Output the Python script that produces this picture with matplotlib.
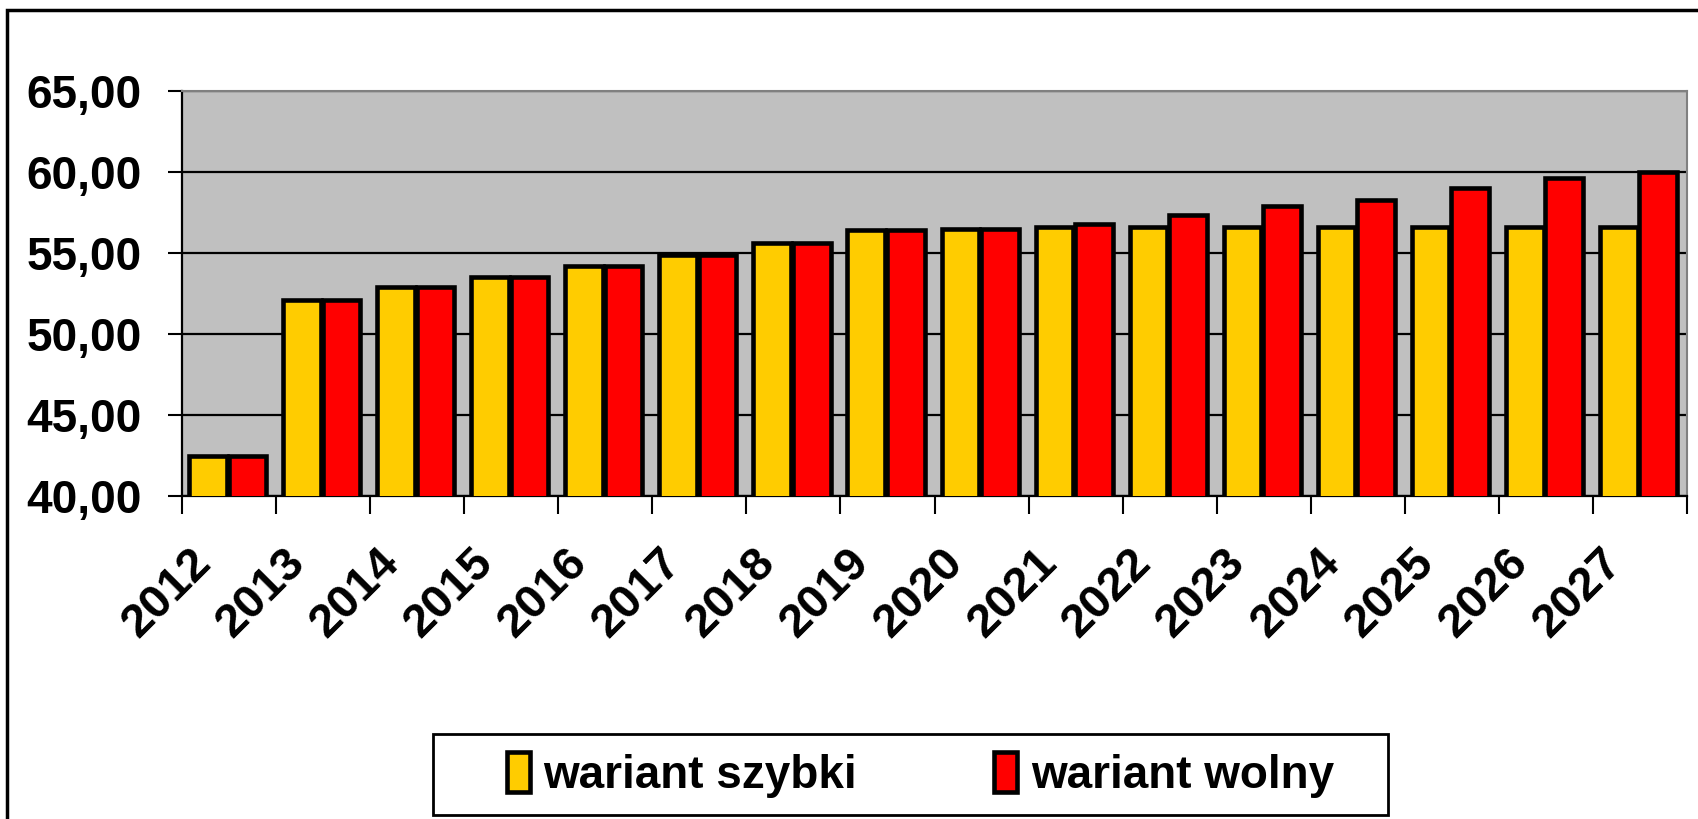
import matplotlib
matplotlib.use("Agg")
import matplotlib.pyplot as plt
import numpy as np
from matplotlib.patches import Rectangle
from matplotlib.ticker import FuncFormatter
from matplotlib.transforms import ScaledTranslation
from matplotlib import font_manager

years = [str(y) for y in range(2012, 2028)]
szybki = [42.5, 52.1, 52.9, 53.5, 54.2, 54.9, 55.6, 56.4, 56.5,
          56.6, 56.6, 56.6, 56.6, 56.6, 56.6, 56.6]
wolny = [42.5, 52.1, 52.9, 53.5, 54.2, 54.9, 55.6, 56.4, 56.5,
         56.8, 57.35, 57.9, 58.3, 59.0, 59.6, 60.0]
labels = ["wariant szybki", "wariant wolny"]

names = {f.name for f in font_manager.fontManager.ttflist}
if "Liberation Sans Narrow" in names:
    plt.rcParams["font.family"] = ["Liberation Sans Narrow", "DejaVu Sans"]
else:
    plt.rcParams["font.family"] = ["Liberation Sans", "DejaVu Sans"]
plt.rcParams["font.weight"] = "bold"

W, H = 1698, 819
fig = plt.figure(figsize=(W/100, H/100), dpi=100)
ax = fig.add_axes([182/W, 1-496/H, (1687-182)/W, (496-91)/H])
ax.set_facecolor("#c0c0c0")

x = np.arange(len(years))
w = 0.40
ax.bar(x - 0.225, szybki, w, bottom=0, color="#ffcc00", edgecolor="black",
       linewidth=3.3, label=labels[0], zorder=3)
ax.bar(x + 0.195, wolny, w, bottom=0, color="#ff0000", edgecolor="black",
       linewidth=3.3, label=labels[1], zorder=3)

ax.set_ylim(40, 65)
ax.set_xlim(-0.5, len(years) - 0.5)
ax.set_yticks([40, 45, 50, 55, 60, 65])
ax.yaxis.set_major_formatter(FuncFormatter(lambda v, p: f"{v:.2f}".replace(".", ",")))
ax.grid(axis="y", color="black", linewidth=1.6, zorder=1)
ax.tick_params(axis="y", length=10, width=1.5, pad=19, labelsize=33)

# ticks on category borders, labels at centers
ax.set_xticks(np.arange(len(years) + 1) - 0.5)
ax.set_xticklabels([])
ax.tick_params(axis="x", which="major", length=13, width=1.5)
ax.set_xticks(x, minor=True)
ax.set_xticklabels(years, minor=True)
ax.tick_params(axis="x", which="minor", length=0, pad=43, labelsize=34)
off = ScaledTranslation(-0.25, 0, fig.dpi_scale_trans)
for lab in ax.get_xticklabels(minor=True):
    lab.set_rotation(45)
    lab.set_ha("right")
    lab.set_va("center")
    lab.set_rotation_mode("anchor")
    lab.set_transform(lab.get_transform() + off)

for s in ["left", "bottom"]:
    ax.spines[s].set_color("black")
    ax.spines[s].set_linewidth(1.6)
for s in ["top", "right"]:
    ax.spines[s].set_color("#808080")
    ax.spines[s].set_linewidth(1.5)

# outer chart frame
fig.add_artist(Rectangle((7/W, -0.1), 1.2, 1.1 - 10/H, transform=fig.transFigure,
                         fill=False, edgecolor="black", linewidth=2.5))

# legend box
fig.add_artist(Rectangle((433/W, 4/H), (1388-433)/W, 81/H,
                         transform=fig.transFigure, fill=False,
                         edgecolor="black", linewidth=2))
leg = fig.legend(loc="center", bbox_to_anchor=(((433+1388)/2 + 10)/W, 1-775/H),
                 ncol=2, fontsize=33, frameon=False,
                 handlelength=0.5, handleheight=0.95, handletextpad=0.3,
                 columnspacing=3.0, borderpad=0)

fig.savefig("out.png", dpi=100)
